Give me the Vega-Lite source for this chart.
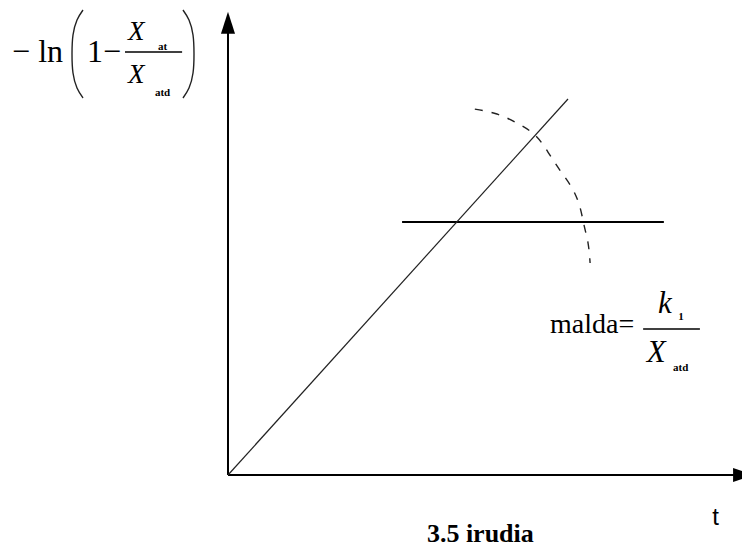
{
  "$schema": "https://vega.github.io/schema/vega-lite/v6.json",
  "width": 742,
  "height": 547,
  "padding": 0,
  "autosize": {"type": "none"},
  "background": "white",
  "config": {"view": {"stroke": null}},
  "datasets": {
    "axes": [
      {"x": 0, "y": 0, "x2": 0, "y2": 11.76},
      {"x": 0, "y": 0, "x2": 14.91, "y2": 0}
    ],
    "level": [
      {"x": 5.12, "y": 6.73, "x2": 12.82, "y2": 6.73}
    ],
    "fit": [
      {"x": 0, "y": 0, "x2": 10, "y2": 10}
    ],
    "fractionBars": [
      {"x": -3.03, "y": 11.25, "x2": -1.35, "y2": 11.25},
      {"x": 12.21, "y": 3.88, "x2": 13.88, "y2": 3.88}
    ],
    "arc": [
      {"x": 7.26, "y": 9.73},
      {"x": 7.91, "y": 9.6},
      {"x": 8.5, "y": 9.36},
      {"x": 9.03, "y": 9.04},
      {"x": 9.41, "y": 8.59},
      {"x": 9.76, "y": 8.11},
      {"x": 10.12, "y": 7.63},
      {"x": 10.35, "y": 7.13},
      {"x": 10.47, "y": 6.65},
      {"x": 10.59, "y": 6.17},
      {"x": 10.65, "y": 5.64}
    ],
    "parens": [
      {"side": "left", "x": -4.265, "y": 12.367},
      {"side": "left", "x": -4.441, "y": 12.101},
      {"side": "left", "x": -4.559, "y": 11.702},
      {"side": "left", "x": -4.588, "y": 11.197},
      {"side": "left", "x": -4.559, "y": 10.691},
      {"side": "left", "x": -4.441, "y": 10.293},
      {"side": "left", "x": -4.265, "y": 10.027},
      {"side": "right", "x": -1.324, "y": 12.367},
      {"side": "right", "x": -1.147, "y": 12.101},
      {"side": "right", "x": -1.029, "y": 11.702},
      {"side": "right", "x": -1.0, "y": 11.197},
      {"side": "right", "x": -1.029, "y": 10.691},
      {"side": "right", "x": -1.147, "y": 10.293},
      {"side": "right", "x": -1.324, "y": 10.027}
    ],
    "arrowUp": [{"x": 0, "y": 12.03}],
    "arrowRight": [{"x": 15.15, "y": 0}],
    "mathText": [
      {"x": -6.35, "y": 10.98, "label": "− ln"},
      {"x": -4.15, "y": 10.98, "label": "1−"}
    ],
    "maldaText": [
      {"x": 9.47, "y": 3.78, "label": "malda="}
    ],
    "italicSmall": [
      {"x": -2.94, "y": 11.57, "label": "X"},
      {"x": -2.94, "y": 10.43, "label": "X"}
    ],
    "italicLarge": [
      {"x": 12.65, "y": 4.31, "label": "k"},
      {"x": 12.32, "y": 3.0, "label": "X"}
    ],
    "subscripts": [
      {"x": -2.06, "y": 11.3, "label": "at"},
      {"x": -2.15, "y": 10.07, "label": "atd"},
      {"x": 13.24, "y": 4.12, "label": "1"},
      {"x": 13.09, "y": 2.77, "label": "atd"}
    ],
    "axisName": [
      {"x": 14.24, "y": -1.33, "label": "t"}
    ],
    "caption": [
      {"x": 5.85, "y": -1.78, "label": "3.5 irudia"}
    ]
  },
  "encoding": {
    "x": {"field": "x", "type": "quantitative", "axis": null,
          "scale": {"domain": [-6.706, 15.118], "nice": false, "zero": false}},
    "y": {"field": "y", "type": "quantitative", "axis": null,
          "scale": {"domain": [-1.915, 12.633], "nice": false, "zero": false}}
  },
  "layer": [
    {
      "data": {"name": "axes"},
      "mark": {"type": "rule", "color": "black", "strokeWidth": 2},
      "encoding": {"x2": {"field": "x2"}, "y2": {"field": "y2"}}
    },
    {
      "data": {"name": "level"},
      "mark": {"type": "rule", "color": "black", "strokeWidth": 2},
      "encoding": {"x2": {"field": "x2"}, "y2": {"field": "y2"}}
    },
    {
      "data": {"name": "fit"},
      "mark": {"type": "rule", "color": "#222", "strokeWidth": 1.2},
      "encoding": {"x2": {"field": "x2"}, "y2": {"field": "y2"}}
    },
    {
      "data": {"name": "fractionBars"},
      "mark": {"type": "rule", "color": "black", "strokeWidth": 1.5},
      "encoding": {"x2": {"field": "x2"}, "y2": {"field": "y2"}}
    },
    {
      "data": {"name": "arc"},
      "mark": {"type": "line", "color": "#222", "strokeWidth": 1.4,
               "strokeDash": [8, 9], "interpolate": "natural"},
      "encoding": {"order": {"value": null}}
    },
    {
      "data": {"name": "parens"},
      "mark": {"type": "line", "color": "#222", "strokeWidth": 1.4, "interpolate": "natural"},
      "encoding": {"detail": {"field": "side"}, "order": {"value": null}}
    },
    {
      "data": {"name": "arrowUp"},
      "mark": {"type": "point", "shape": "M0,-1L0.64,1L-0.64,1Z",
               "filled": true, "color": "black", "size": 484, "opacity": 1, "strokeWidth": 0}
    },
    {
      "data": {"name": "arrowRight"},
      "mark": {"type": "point", "shape": "M1,0L-1,-0.7L-1,0.7Z",
               "filled": true, "color": "black", "size": 400, "opacity": 1, "strokeWidth": 0}
    },
    {
      "data": {"name": "mathText"},
      "mark": {"type": "text", "font": "'Liberation Serif', 'DejaVu Serif', serif", "fontSize": 32,
               "align": "left", "baseline": "alphabetic", "color": "black"},
      "encoding": {"text": {"field": "label"}}
    },
    {
      "data": {"name": "maldaText"},
      "mark": {"type": "text", "font": "'Liberation Serif', 'DejaVu Serif', serif", "fontSize": 28,
               "align": "left", "baseline": "alphabetic", "color": "black"},
      "encoding": {"text": {"field": "label"}}
    },
    {
      "data": {"name": "italicSmall"},
      "mark": {"type": "text", "font": "'Liberation Serif', 'DejaVu Serif', serif", "fontSize": 27, "fontStyle": "italic",
               "align": "left", "baseline": "alphabetic", "color": "black"},
      "encoding": {"text": {"field": "label"}}
    },
    {
      "data": {"name": "italicLarge"},
      "mark": {"type": "text", "font": "'Liberation Serif', 'DejaVu Serif', serif", "fontSize": 31, "fontStyle": "italic",
               "align": "left", "baseline": "alphabetic", "color": "black"},
      "encoding": {"text": {"field": "label"}}
    },
    {
      "data": {"name": "subscripts"},
      "mark": {"type": "text", "font": "'Liberation Serif', 'DejaVu Serif', serif", "fontSize": 11,
               "fontWeight": "bold", "align": "left", "baseline": "alphabetic", "color": "black"},
      "encoding": {"text": {"field": "label"}}
    },
    {
      "data": {"name": "axisName"},
      "mark": {"type": "text", "font": "'Liberation Sans', sans-serif", "fontSize": 24,
               "align": "left", "baseline": "alphabetic", "color": "black"},
      "encoding": {"text": {"field": "label"}}
    },
    {
      "data": {"name": "caption"},
      "mark": {"type": "text", "font": "'Liberation Serif', 'DejaVu Serif', serif", "fontSize": 26, "fontWeight": "bold",
               "align": "left", "baseline": "alphabetic", "color": "black"},
      "encoding": {"text": {"field": "label"}}
    }
  ]
}
